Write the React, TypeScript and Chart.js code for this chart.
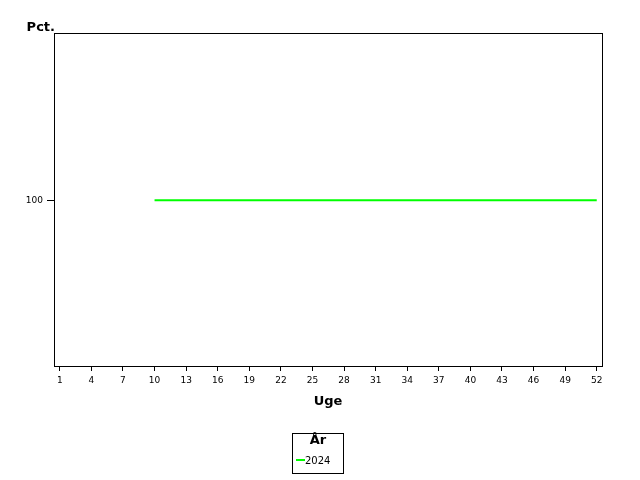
import React, { useEffect, useRef } from "react";
import { Chart, registerables } from "chart.js";

Chart.register(...registerables);

const weeks: number[] = [10,11,12,13,14,15,16,17,18,19,20,21,22,23,24,25,26,27,28,29,30,31,32,33,34,35,36,37,38,39,40,41,42,43,44,45,46,47,48,49,50,51,52];
const values2024: number[] = [100,100,100,100,100,100,100,100,100,100,100,100,100,100,100,100,100,100,100,100,100,100,100,100,100,100,100,100,100,100,100,100,100,100,100,100,100,100,100,100,100,100,100];
const xTicks: number[] = [1,4,7,10,13,16,19,22,25,28,31,34,37,40,43,46,49,52];
const yTicks: number[] = [100];
const seriesLabel = "2024";
const legendTitle = "År";
const xTitle = "Uge";
const yTitle = "Pct.";

const FONT = "'DejaVu Sans', sans-serif";

const decorPlugin = {
  id: "decor",
  afterDraw(chart: any) {
    const ctx = chart.ctx;
    const a = chart.chartArea;
    ctx.save();
    ctx.strokeStyle = "#000";
    ctx.lineWidth = 1;
    ctx.strokeRect(Math.round(a.left) + 0.5, Math.round(a.top) + 0.5, Math.round(a.right - a.left), Math.round(a.bottom - a.top));
    // y title
    ctx.fillStyle = "#000";
    ctx.font = "bold 13px " + FONT;
    ctx.textAlign = "right";
    ctx.textBaseline = "alphabetic";
    ctx.fillText(yTitle, a.left + 1, a.top - 2);
    // x title
    ctx.textAlign = "center";
    ctx.textBaseline = "middle";
    ctx.fillText(xTitle, (a.left + a.right) / 2, 402);
    // legend box
    const bx = 292.5, by = 433.5, bw = 51, bh = 40;
    ctx.strokeRect(bx, by, bw, bh);
    ctx.fillText(legendTitle, bx + bw / 2, 441);
    const ds = chart.data.datasets[0];
    ctx.strokeStyle = ds.borderColor;
    ctx.lineWidth = 2;
    ctx.beginPath();
    ctx.moveTo(296, 460);
    ctx.lineTo(305, 460);
    ctx.stroke();
    ctx.font = "10px " + FONT;
    ctx.textAlign = "left";
    ctx.fillText(ds.label, 305, 461);
    ctx.restore();
  },
};

export default function App() {
  const ref = useRef<HTMLCanvasElement | null>(null);
  useEffect(() => {
    if (!ref.current) return;
    const chart = new Chart(ref.current, {
      type: "line",
      data: {
        datasets: [
          {
            label: seriesLabel,
            data: weeks.map((w, i) => ({ x: w, y: values2024[i] })),
            borderColor: "#00ff00",
            backgroundColor: "#00ff00",
            borderWidth: 2,
            pointRadius: 0,
            fill: false,
          },
        ],
      },
      options: {
        animation: false,
        responsive: false,
        devicePixelRatio: 1,
        layout: { padding: { left: 0, top: 33, right: 38, bottom: 0 } },
        plugins: { legend: { display: false }, tooltip: { enabled: false } },
        scales: {
          x: {
            type: "linear",
            min: 0.45,
            max: 52.5,
            afterBuildTicks: (s: any) => {
              s.ticks = xTicks.map((v) => ({ value: v }));
            },
            afterFit: (s: any) => {
              s.height = 114;
            },
            grid: { drawOnChartArea: false, drawTicks: true, tickLength: 5, color: "#000" },
            border: { display: true, color: "#000" },
            ticks: { color: "#000", font: { family: FONT, size: 9 }, padding: 4, maxRotation: 0, autoSkip: false, callback: (v: any) => String(v) },
          },
          y: {
            type: "linear",
            min: 0,
            max: 201,
            afterBuildTicks: (s: any) => {
              s.ticks = yTicks.map((v) => ({ value: v }));
            },
            afterFit: (s: any) => {
              s.width = 54;
            },
            grid: { drawOnChartArea: false, drawTicks: true, tickLength: 7, color: "#000" },
            border: { display: true, color: "#000" },
            ticks: { color: "#000", font: { family: FONT, size: 9 }, padding: 4, callback: (v: any) => String(v) },
          },
        },
      },
      plugins: [decorPlugin],
    });
    return () => chart.destroy();
  }, []);
  return (
    <div style={{ position: "fixed", left: 0, top: 0, width: 640, height: 480, background: "#fff" }}>
      <canvas ref={ref} width={640} height={480} style={{ display: "block" }} />
    </div>
  );
}
